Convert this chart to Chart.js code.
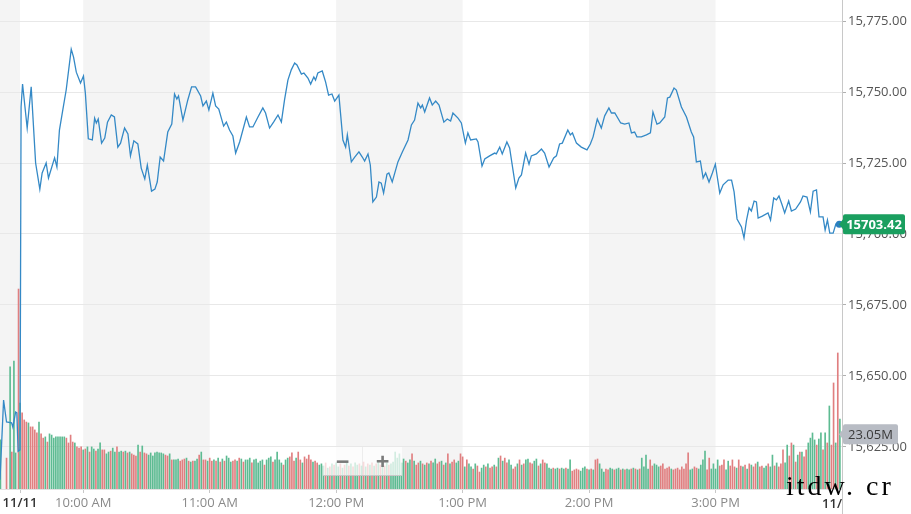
<!DOCTYPE html>
<html>
<head>
<meta charset="utf-8">
<script src="https://cdn.jsdelivr.net/npm/chart.js@4.4.1/dist/chart.umd.min.js"></script>
<style>
  html, body { margin: 0; padding: 0; background: #fff; }
  #wrap { position: relative; width: 911px; height: 514px; overflow: hidden; }
  #zoomCtl {
    position: absolute; left: 323px; top: 447px; width: 79px; height: 28px;
    background: rgba(255, 255, 255, 0.72); border-bottom: 1px solid #c8c8c8;
    display: flex; font: bold 24px "Open Sans", sans-serif; color: #7a7a7a;
  }
  #zoomCtl span { flex: 1; text-align: center; line-height: 27px; }
  #zoomCtl span:first-child { border-right: 1px solid rgba(0, 0, 0, 0.06); }
  #mark {
    position: absolute; left: 786px; top: 472px;
    font: 28px "Liberation Serif", "DejaVu Serif", serif; letter-spacing: 3px;
    line-height: 28px; color: #000;
  }
</style>
</head>
<body>
<div id="wrap">
  <canvas id="chart" width="911" height="514"></canvas>
  <div id="zoomCtl"><span>−</span><span>+</span></div>
  <div id="mark">itdw. cr</div>
</div>
<script>
// minutes after 9:30 on the x axis (negatives = pre-open)
const priceMinutes = [
  -9.5, -7.8, -6.4, -4.0, -3.4, -2.1, -1.5, -0.9, 0, 0.5, 1.2, 3.4, 5.3, 7.4, 9.4, 10.5, 12.4, 13.5,
  16.4, 17.5, 18.7, 20.3, 21.9, 24.3, 25.4, 26.7, 28.7, 30.1, 31.0, 32.4, 34.3, 35.4, 36.2, 37.1,
  38.7, 40.2, 41.5, 43.3, 44.8, 46.4, 47.7, 49.6, 51.2, 52.4, 54.0, 55.9, 57.5, 59.2, 60.4, 62.4,
  64.0, 65.1, 66.5, 68.1, 70.1, 72.0, 73.3, 74.4, 75.2, 77.3, 79.6, 81.4, 83.3, 85.7, 86.8, 88.4,
  89.6, 91.5, 92.8, 94.3, 96.6, 97.9, 99.4, 101.0, 102.3, 104.2, 107.4, 108.9, 110.5, 112.9, 115.2,
  116.5, 118.4, 120.3, 122.4, 124.0, 125.5, 127.1, 128.7, 130.3, 131.4, 133.5, 134.7, 136.6, 137.9,
  139.4, 140.2, 141.3, 143.4, 145.0, 146.4, 148.0, 149.3, 151.3, 153.2, 154.5, 155.3, 157.2, 158.8,
  160.8, 162.4, 163.5, 165.1, 166.2, 167.4, 169.1, 170.3, 171.4, 172.5, 174.1, 175.0, 176.6, 179.3,
  181.4, 184.1, 185.7, 187.2, 188.8, 190.1, 190.9, 192.0, 194.3, 195.6, 197.2, 198.8, 201.1, 202.7,
  204.3, 205.4, 207.8, 209.4, 211.3, 212.5, 213.8, 216.5, 217.3, 219.2, 220.5, 222.8, 225.2, 226.0,
  227.6, 228.8, 231.0, 232.3, 233.9, 235.2, 236.7, 237.9, 239.9, 241.5, 242.6, 245.0, 247.4, 248.9,
  251.0, 253.2, 254.5, 256.0, 257.3, 259.9, 261.1, 262.1, 264.0, 266.3, 269.0, 270.6, 271.9, 273.9,
  275.8, 277.4, 279.4, 280.6, 282.2, 285.0, 286.9, 288.9, 290.1, 291.6, 292.7, 294.8, 297.2, 299.1,
  300.3, 302.2, 303.5, 305.9, 307.2, 308.3, 309.2, 310.3, 311.4, 313.8, 316.2, 318.5, 319.6, 320.9,
  322.8, 324.1, 325.3, 326.9, 328.5, 329.9, 332.0, 333.6, 336.0, 337.6, 338.8, 340.2, 342.3, 343.5,
  344.7, 345.9, 347.0, 348.3, 349.4, 350.2, 352.2, 354.9, 356.1, 357.6, 358.9, 360.1, 361.6, 362.8,
  364.7, 366.0, 368.0, 370.3, 371.5, 373.4, 375.0, 376.3, 377.9, 379.1, 381.0, 382.0, 383.1, 384.2,
  385.8, 387.1, 388.7
];
const priceValues = [
  15613.5, 15641.5, 15633.8, 15633.5, 15632.0, 15637.3, 15637.0, 15623.5, 15624.0, 15744.7, 15752.8, 15737.3, 15751.8, 15725.0, 15715.8, 15721.5, 15725.0, 15719.7,
  15726.8, 15723.6, 15736.6, 15743.7, 15750.7, 15765.1, 15762.3, 15757.0, 15753.2, 15755.6, 15749.6, 15733.5, 15733.1, 15740.8, 15739.1, 15740.5,
  15732.0, 15733.8, 15739.4, 15741.9, 15741.2, 15730.6, 15732.0, 15737.3, 15735.2, 15727.5, 15732.8, 15731.7, 15723.2, 15719.4, 15724.3, 15715.1,
  15715.8, 15718.3, 15727.1, 15725.7, 15735.9, 15738.7, 15749.3, 15747.5, 15748.6, 15740.1, 15747.2, 15751.8, 15751.8, 15748.6, 15745.1, 15746.8,
  15743.7, 15749.6, 15745.1, 15744.0, 15738.0, 15739.4, 15736.6, 15734.5, 15728.5, 15732.4, 15741.2, 15737.7, 15737.7, 15741.2, 15744.4,
  15742.6, 15737.3, 15739.4, 15741.9, 15739.4, 15747.2, 15754.2, 15757.8, 15760.2, 15759.5, 15756.3, 15756.7, 15754.9, 15752.8,
  15755.3, 15754.2, 15756.7, 15757.4, 15753.5, 15748.9, 15749.3, 15746.8, 15748.9, 15733.1, 15730.6, 15734.9, 15725.4, 15727.1,
  15728.9, 15727.1, 15725.7, 15728.2, 15724.3, 15711.3, 15713.0, 15718.3, 15717.9, 15714.4, 15721.1, 15721.5, 15718.3, 15725.4,
  15728.9, 15733.1, 15738.4, 15740.1, 15746.1, 15744.4, 15745.4, 15743.0, 15747.9, 15745.4, 15746.8, 15745.4, 15739.4, 15740.5,
  15739.8, 15742.6, 15740.8, 15739.1, 15732.0, 15735.6, 15733.1, 15733.5, 15732.4, 15723.9, 15726.4, 15727.5, 15728.5, 15728.2,
  15730.6, 15728.2, 15732.4, 15730.3, 15722.5, 15716.2, 15719.7, 15720.8, 15728.5, 15724.6, 15727.5, 15728.2, 15729.9, 15728.5,
  15723.6, 15726.8, 15727.5, 15731.7, 15732.0, 15736.6, 15734.9, 15735.6, 15732.0, 15730.6, 15729.6, 15731.7, 15734.2, 15740.5,
  15737.3, 15741.6, 15744.4, 15742.6, 15742.6, 15739.1, 15738.7, 15739.1, 15735.6, 15735.9, 15734.2, 15734.2, 15734.9, 15735.6,
  15743.0, 15738.7, 15739.1, 15741.2, 15747.9, 15748.2, 15749.6, 15751.4, 15750.7, 15744.7, 15741.2, 15735.9, 15734.2, 15725.4,
  15725.7, 15719.7, 15721.5, 15718.3, 15721.5, 15724.6, 15714.4, 15717.3, 15719.0, 15719.0, 15714.8, 15705.3, 15702.5, 15698.6,
  15704.9, 15709.2, 15708.1, 15711.6, 15711.3, 15705.6, 15706.3, 15707.4, 15704.9, 15712.7, 15712.0, 15713.4, 15710.2, 15707.4,
  15711.6, 15708.1, 15708.8, 15711.3, 15713.4, 15713.0, 15707.8, 15715.1, 15715.5, 15706.0, 15706.0, 15701.4, 15704.9, 15700.3,
  15700.3, 15703.5, 15703.42
];

// volume in millions; pre-open prints, then one bar per minute from 9:30
const preVolumeMinutes = [-9.3, -6.4, -4.7, -3.9, -2.9, -2.1, -0.7];
const preVolumes = [16.2, 10.2, 40.3, 12.2, 42.2, 11.9, 66.0];
const preVolumeSides = 'grgrggr';

const sessionVolumes = [
  28.4, 25.1, 22.8, 22.1, 21.8, 20.5, 20.5, 19.5, 18.5, 22.1,
  18.2, 16.8, 17.2, 15.5, 18.2, 17.8, 16.8, 17.2, 17.2, 17.2,
  17.2, 17.2, 16.8, 15.2, 17.8, 15.5, 15.2, 13.9, 13.5, 13.9,
  12.9, 13.2, 13.9, 12.2, 13.9, 13.2, 12.5, 13.2, 15.2, 12.9,
  12.9, 11.6, 12.2, 12.5, 13.5, 12.2, 13.9, 12.2, 12.5, 12.2,
  12.5, 11.9, 12.2, 11.6, 11.2, 10.9, 14.5, 12.2, 14.2, 11.9,
  11.6, 11.2, 11.9, 10.9, 11.9, 12.2, 11.9, 11.9, 11.6, 11.2,
  10.9, 11.6, 9.6, 9.6, 9.6, 9.9, 9.2, 9.6, 9.9, 10.2,
  9.2, 8.9, 9.2, 9.2, 9.9, 11.2, 12.2, 9.6, 9.6, 9.2,
  10.2, 9.2, 9.6, 9.2, 10.2, 8.9, 9.9, 9.2, 10.9, 10.2,
  8.9, 9.2, 9.6, 9.2, 10.2, 9.9, 8.9, 9.6,
  9.6, 10.2, 8.6, 9.6, 9.9, 8.6, 9.2, 9.6, 7.9, 9.6,
  10.2, 10.6, 8.9, 9.6, 12.2, 9.6, 8.6, 7.9, 9.6, 10.2,
  10.6, 11.9, 9.2, 10.2, 12.2, 9.6, 8.6, 10.6, 9.9, 11.2,
  9.6, 8.9, 9.2, 8.6, 7.9, 8.3, 7.6, 8.6, 6.9, 7.3,
  8.3, 7.9, 8.6, 7.3, 8.3, 6.9, 7.9, 8.6, 7.6, 8.3,
  7.3, 8.6, 7.9, 8.3, 7.6, 8.9, 7.3, 8.3, 7.9, 8.6,
  7.6, 8.3, 8.9, 7.9, 8.3, 7.6, 8.6, 7.9, 8.3, 8.9,
  12.2, 10.2, 11.6, 8.6, 9.9, 9.2, 8.6, 9.6, 11.6, 9.2,
  7.9, 8.6, 9.2, 8.3, 7.9, 8.6, 8.3, 9.2, 8.6, 9.9,
  8.3, 8.9, 9.2, 7.9, 8.6, 11.6, 8.3, 8.9, 9.6, 8.6, 9.2, 11.6,
  10.6, 7.3, 9.6, 8.3, 7.3, 6.6, 8.3, 7.6, 5.6, 6.9,
  7.9, 7.3, 8.3, 6.9, 7.3, 7.9, 7.3, 10.2, 10.9, 9.2,
  10.2, 8.6, 9.6, 7.9, 6.6, 7.3, 8.3, 9.6, 7.9, 8.3,
  9.6, 9.9, 8.6, 8.3, 9.2, 9.9, 7.6, 8.3, 9.6, 8.6, 8.3,
  6.9, 6.6, 6.9, 6.6, 6.9, 6.6, 6.9, 6.6, 6.9, 6.6,
  9.6, 5.9, 6.3, 6.6, 6.3, 5.9, 6.9, 7.3, 6.6, 6.3,
  6.6, 6.3, 9.6, 9.9, 8.3, 6.6, 5.6, 6.6, 6.3, 6.9,
  6.6, 6.3, 6.6, 6.9, 6.3, 6.6, 6.3, 6.6, 6.3, 6.6,
  6.9, 6.6, 6.3, 6.6, 10.2, 7.3, 11.2, 6.6, 9.6, 7.6,
  8.3, 7.9, 7.3, 7.6, 8.3, 6.6, 6.9, 7.3, 6.6, 6.3,
  6.6, 6.9, 6.3, 7.3, 6.6, 8.3, 11.9, 6.3, 6.6, 7.3,
  6.9, 6.6, 7.9, 9.6, 12.5, 6.3, 10.2, 6.6, 8.3, 6.6,
  9.6, 7.6, 7.9, 9.6, 6.3, 9.2, 7.6, 9.6, 7.3, 6.9,
  9.6, 7.6, 7.3, 7.9, 6.6, 8.3,
  7.9, 7.3, 8.3, 8.9, 7.3, 7.6, 6.9, 7.6, 8.3, 7.3,
  11.2, 7.6, 8.6, 7.3, 8.3, 12.9, 8.6, 14.5, 10.9, 15.2,
  14.5, 8.9, 11.2, 12.2, 12.2, 10.6, 12.9, 15.2, 16.8, 18.5,
  16.2, 14.5, 16.5, 18.5, 12.9, 18.5, 15.2, 27.4, 14.5, 35.0,
  15.2, 44.9, 23.05
];
// g = up minute, r = down minute
const sessionSides = [
  'grrrgrrrrg', 'rrgrgggggg', 'ggrrrrgrrr', 'grgrggrggr', 'rggrggrggr',
  'grgrrrgrgr', 'rggggggggr', 'rgrgggrrrg', 'rgrggrgrrg', 'rrgrgrgrgg',
  'grrgrgrg',
  'ggrgggggrg', 'ggrggggrgg', 'rrrgrrgrrr', 'rgrrgggrgr', 'grggrgrgrg',
  'rggrgrgrgr', 'grgrgrgrgg', 'gggggrggrg', 'rrgrgrgrgg', 'rrgrgrgrrggr',
  'rgrggrgrrg', 'grgrrgrgrg', 'rrggrrgrgr', 'ggrrggrgrrg',
  'ggrggrggrg', 'grrrrgggrg', 'rgrrgggrrg', 'grggrgrggr', 'grgrggggrr',
  'gggrrrrrgr', 'rrrrrrrggr', 'rggggrrggg', 'grrrggrrrg', 'rrgrgr',
  'grrgrrggrg', 'grgrrrggrr', 'grgrgrrggg', 'grggrgrgrr', 'grg'
].join('');

const shadeBands = [[-10, 0], [30, 90], [150, 210], [270, 330]];
const xTickMinutes = [0, 30, 90, 150, 210, 270, 330, 390];
const xTickLabels = ['11/11', '10:00 AM', '11:00 AM', '12:00 PM', '1:00 PM', '2:00 PM', '3:00 PM', '11/'];
const lastPrice = priceValues[priceValues.length - 1];
const lastVolume = sessionVolumes[sessionVolumes.length - 1];

const upColor = '#5dbb92';
const downColor = '#e07f80';

const volumePoints = [];
const volumeColors = [];
preVolumes.forEach((v, i) => {
  volumePoints.push({ x: preVolumeMinutes[i], y: v });
  volumeColors.push(preVolumeSides[i] === 'g' ? upColor : downColor);
});
sessionVolumes.forEach((v, i) => {
  volumePoints.push({ x: i, y: v });
  volumeColors.push(sessionSides[i] === 'r' ? downColor : upColor);
});

const pricePoints = priceValues.map((p, i) => ({ x: priceMinutes[i], y: p }));

const bandsPlugin = {
  id: 'bands',
  beforeDraw(chart) {
    const c = chart.ctx, a = chart.chartArea, xs = chart.scales.x;
    c.save();
    c.fillStyle = '#f4f4f4';
    shadeBands.forEach(b => {
      const x0 = Math.max(a.left, xs.getPixelForValue(b[0]));
      const x1 = xs.getPixelForValue(b[1]);
      c.fillRect(x0, a.top, x1 - x0, a.bottom - a.top);
    });
    c.restore();
  }
};

function tag(c, x, yc, w, h, bg) {
  c.fillStyle = bg;
  c.beginPath();
  c.moveTo(x - 4, yc);
  c.lineTo(x, yc - 5);
  c.lineTo(x, yc - h / 2 + 2);
  c.quadraticCurveTo(x, yc - h / 2, x + 2, yc - h / 2);
  c.lineTo(x + w - 2, yc - h / 2);
  c.quadraticCurveTo(x + w, yc - h / 2, x + w, yc - h / 2 + 2);
  c.lineTo(x + w, yc + h / 2 - 2);
  c.quadraticCurveTo(x + w, yc + h / 2, x + w - 2, yc + h / 2);
  c.lineTo(x + 2, yc + h / 2);
  c.quadraticCurveTo(x, yc + h / 2, x, yc + h / 2 - 2);
  c.lineTo(x, yc + 5);
  c.closePath();
  c.fill();
}

const tagsPlugin = {
  id: 'tags',
  afterDraw(chart) {
    const c = chart.ctx, a = chart.chartArea;
    c.save();
    // axis line runs down past the plot
    c.strokeStyle = '#c8c8c8';
    c.lineWidth = 1;
    c.beginPath();
    c.moveTo(a.right + 0.5, a.bottom);
    c.lineTo(a.right + 0.5, 514);
    c.stroke();

    // last x label sits left of the axis line
    c.fillStyle = '#333';
    c.font = '600 13px "Open Sans"';
    c.textAlign = 'right';
    c.textBaseline = 'middle';
    c.fillText(xTickLabels[xTickLabels.length - 1], a.right, 504);

    const yv = chart.scales.yv.getPixelForValue(lastVolume) + 15;
    tag(c, a.right + 1, yv, 55, 20, '#b8bcc4');
    c.fillStyle = '#3a3a3a';
    c.font = '13px "Open Sans"';
    c.textAlign = 'center';
    c.fillText(lastVolume.toFixed(2) + 'M', a.right + 28.5, yv + 1);

    const yp = chart.scales.y.getPixelForValue(lastPrice);
    tag(c, a.right + 1, yp, 62, 20, '#1a9f5f');
    c.fillStyle = '#fff';
    c.font = 'bold 13px "Open Sans"';
    c.fillText(lastPrice.toFixed(2), a.right + 32, yp + 1);
    c.restore();
  }
};

new Chart(document.getElementById('chart'), {
  data: {
    datasets: [
      {
        type: 'line',
        data: pricePoints,
        yAxisID: 'y',
        borderColor: '#3489c6',
        borderWidth: 1.3,
        tension: 0,
        pointRadius: ctx => (ctx.dataIndex === pricePoints.length - 1 ? 3.5 : 0),
        pointBackgroundColor: '#2a7fbf',
        pointBorderWidth: 0,
        order: 0
      },
      {
        type: 'bar',
        data: volumePoints,
        yAxisID: 'yv',
        backgroundColor: volumeColors,
        barThickness: 1,
        order: 1
      }
    ]
  },
  options: {
    responsive: false,
    animation: false,
    devicePixelRatio: 1,
    layout: { padding: 0, autoPadding: false },
    plugins: { legend: { display: false }, tooltip: { enabled: false } },
    scales: {
      x: {
        type: 'linear',
        offset: false,
        min: -9.5,
        max: 390,
        afterBuildTicks: s => { s.ticks = xTickMinutes.map(v => ({ value: v })); },
        afterFit: s => { s.height = 25; s.paddingLeft = 0; s.paddingRight = 0; },
        grid: { display: true, offset: false, drawOnChartArea: false, drawTicks: true, tickLength: 4, tickColor: '#c8c8c8' },
        border: { display: true, color: '#e2e2e2' },
        ticks: {
          autoSkip: false,
          maxRotation: 0,
          padding: 2,
          callback: (v, i) => (i === xTickLabels.length - 1 ? '' : xTickLabels[i]),
          color: ctx => (ctx.index === 0 ? '#333' : '#8a8a8a'),
          font: ctx => ({ family: 'Open Sans', size: 13, weight: ctx.index === 0 ? '600' : 'normal' })
        }
      },
      y: {
        position: 'right',
        min: 15610.2,
        max: 15782.4,
        afterFit: s => { s.width = 69; s.paddingTop = 0; s.paddingBottom = 0; },
        grid: { color: '#e8e8e8', drawTicks: true, tickLength: 4, tickColor: '#b0b0b0' },
        border: { display: true, color: '#c8c8c8' },
        ticks: {
          stepSize: 25,
          includeBounds: false,
          padding: 2,
          color: '#555',
          font: { family: 'Open Sans', size: 13 },
          callback: v => v.toLocaleString('en-US', { minimumFractionDigits: 2, maximumFractionDigits: 2 })
        }
      },
      yv: {
        display: false,
        min: 0,
        max: 161.4
      }
    }
  },
  plugins: [bandsPlugin, tagsPlugin]
});
</script>
</body>
</html>
